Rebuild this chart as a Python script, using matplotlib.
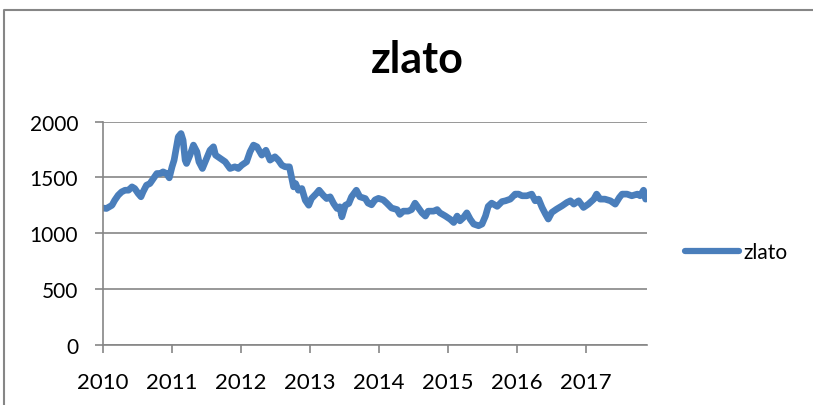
import matplotlib.pyplot as plt
from matplotlib.lines import Line2D

# gold price (x in fractional years)
years = [2010.00, 2010.05, 2010.13, 2010.17, 2010.22, 2010.27, 2010.32, 2010.37, 2010.42, 2010.46,
         2010.51, 2010.55, 2010.58, 2010.63, 2010.68, 2010.73, 2010.78, 2010.83, 2010.87, 2010.92,
         2010.96, 2011.00, 2011.03, 2011.06, 2011.09, 2011.13, 2011.16, 2011.19, 2011.21, 2011.26,
         2011.31, 2011.36, 2011.39, 2011.44, 2011.50, 2011.55, 2011.60, 2011.63, 2011.70, 2011.77,
         2011.84, 2011.91, 2011.96, 2012.01, 2012.08, 2012.13, 2012.18, 2012.23, 2012.30, 2012.36,
         2012.42, 2012.49, 2012.54, 2012.59, 2012.64, 2012.70, 2012.73, 2012.76, 2012.79, 2012.83,
         2012.88, 2012.93, 2012.98, 2013.02, 2013.09, 2013.13, 2013.19, 2013.24, 2013.29, 2013.34,
         2013.39, 2013.43, 2013.46, 2013.51, 2013.56, 2013.60, 2013.67, 2013.72, 2013.80, 2013.84,
         2013.89, 2013.94, 2013.99, 2014.06, 2014.11, 2014.18, 2014.26, 2014.30, 2014.35, 2014.42,
         2014.47, 2014.52, 2014.57, 2014.62, 2014.67, 2014.71, 2014.79, 2014.84, 2014.88, 2014.96,
         2015.03, 2015.08, 2015.13, 2015.17, 2015.22, 2015.27, 2015.32, 2015.37, 2015.44, 2015.49,
         2015.54, 2015.58, 2015.63, 2015.71, 2015.78, 2015.83, 2015.90, 2015.97, 2016.02, 2016.07,
         2016.14, 2016.21, 2016.26, 2016.31, 2016.36, 2016.41, 2016.45, 2016.50, 2016.57, 2016.65,
         2016.72, 2016.77, 2016.82, 2016.89, 2016.96, 2017.03, 2017.11, 2017.15, 2017.20, 2017.27,
         2017.35, 2017.42, 2017.48, 2017.52, 2017.59, 2017.66, 2017.74, 2017.78, 2017.83, 2017.86,
         2017.88]
zlato = [1225, 1221, 1250, 1295, 1340, 1370, 1385, 1385, 1415, 1400,
         1355, 1326, 1370, 1430, 1445, 1490, 1535, 1535, 1550, 1535,
         1496, 1595, 1655, 1760, 1864, 1894, 1834, 1655, 1625, 1700,
         1790, 1730, 1640, 1580, 1670, 1744, 1775, 1700, 1670, 1640,
         1580, 1595, 1580, 1610, 1640, 1730, 1790, 1775, 1700, 1744,
         1655, 1685, 1655, 1610, 1595, 1595, 1505, 1415, 1445, 1385,
         1400, 1295, 1250, 1310, 1355, 1385, 1340, 1310, 1326, 1266,
         1221, 1236, 1146, 1250, 1266, 1326, 1385, 1326, 1310, 1269,
         1254, 1298, 1312, 1298, 1269, 1225, 1211, 1168, 1197, 1197,
         1211, 1269, 1225, 1182, 1153, 1197, 1197, 1211, 1182, 1153,
         1124, 1095, 1153, 1110, 1139, 1182, 1124, 1081, 1066, 1081,
         1153, 1240, 1269, 1240, 1283, 1290, 1305, 1350, 1350, 1335,
         1335, 1350, 1290, 1305, 1230, 1170, 1126, 1185, 1215, 1245,
         1275, 1290, 1260, 1290, 1230, 1260, 1305, 1350, 1305, 1305,
         1290, 1260, 1320, 1350, 1350, 1335, 1350, 1335, 1385, 1305,
         1310]
year_ticks = [2010, 2011, 2012, 2013, 2014, 2015, 2016, 2017]
y_ticks = [0, 500, 1000, 1500, 2000]

W, H = 813, 406
blue = '#4A7EBB'
grey = '#868686'
plt.rcParams['font.family'] = ['Lato', 'DejaVu Sans']

fig = plt.figure(figsize=(W / 100, H / 100), dpi=100)
ax = fig.add_axes([103 / W, 1 - 345.5 / H, 544 / W, (345.5 - 122.7) / H])

ax.plot(years, zlato, color=blue, lw=4.8, solid_capstyle='round', solid_joinstyle='round', label='zlato')

ax.set_xlim(2010, 2017.88)
ax.set_ylim(0, 2000)
ax.set_xticks(year_ticks)
ax.set_xticklabels([str(y) for y in year_ticks], fontsize=16)
ax.set_yticks(y_ticks)
ax.set_yticklabels([str(v) for v in y_ticks], fontsize=15)
ax.grid(axis='y', color=grey, lw=1.2)
ax.set_axisbelow(True)
for s in ['top', 'right']:
    ax.spines[s].set_visible(False)
for s in ['left', 'bottom']:
    ax.spines[s].set_color(grey)
    ax.spines[s].set_linewidth(1.2)
ax.tick_params(axis='both', colors=grey, length=6, width=1.2, labelcolor='black')
ax.tick_params(axis='y', pad=12)
ax.tick_params(axis='x', pad=14)

fig.text(417 / W, 1 - 60 / H, 'zlato', fontsize=31, fontweight='bold', ha='center', va='center')

fig.legend(handles=[Line2D([], [], color=blue, lw=4.5, solid_capstyle='round')], labels=['zlato'],
           loc='center left', bbox_to_anchor=(685 / W, 1 - 253 / H), frameon=False,
           fontsize=15, handlelength=2.6, handletextpad=0.2, borderpad=0, borderaxespad=0)

# chart border (only left and top edges are visible in the picture)
fig.add_artist(Line2D([4 / W, 4 / W, 1.01], [-0.01, 1 - 11 / H, 1 - 11 / H],
                      transform=fig.transFigure, color=grey, lw=1.5))

fig.savefig('out.png', dpi=100)
